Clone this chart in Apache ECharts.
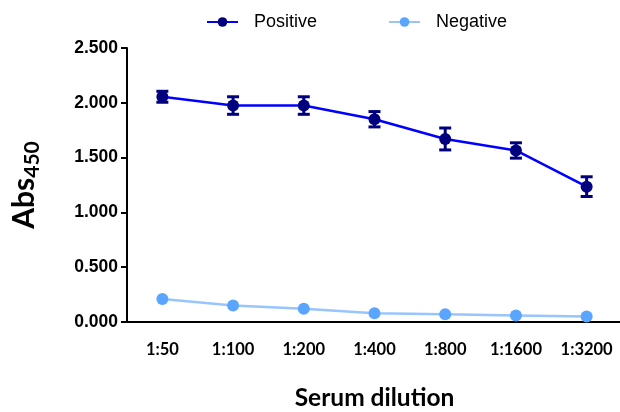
<!DOCTYPE html>
<html><head><meta charset="utf-8">
<script src="https://cdn.jsdelivr.net/npm/echarts@6/dist/echarts.min.js"></script>
<style>html,body{margin:0;padding:0;background:#fff}#c{width:620px;height:412px}</style>
</head><body><div id="c"></div>
<script>
const categories = ['1:50','1:100','1:200','1:400','1:800','1:1600','1:3200'];
const positive = [2.055, 1.975, 1.975, 1.85, 1.67, 1.565, 1.235];
const positiveErr = [0.05, 0.08, 0.08, 0.07, 0.10, 0.07, 0.09];
const negative = [0.21, 0.15, 0.12, 0.08, 0.07, 0.06, 0.05];
const yTicks = [0, 0.5, 1.0, 1.5, 2.0, 2.5];

const errData = positive.map((v, i) => [i, v - positiveErr[i], v + positiveErr[i]]);

const chart = echarts.init(document.getElementById('c'));
chart.setOption({
  animation: false,
  grid: {left: 127, right: -2, top: 48, bottom: 90, containLabel: false, outerBoundsMode: 'none'},
  legend: {
    top: 8, left: 201, itemGap: 71, itemWidth: 31, itemHeight: 12,
    textStyle: {fontFamily: 'Liberation Sans', fontSize: 18, color: '#000', padding: [0, 0, 0, 11]},
    data: ['Positive', 'Negative']
  },
  xAxis: {
    type: 'category', data: categories, boundaryGap: true,
    axisLine: {lineStyle: {color: '#000', width: 2}},
    axisTick: {alignWithLabel: true, length: 8, lineStyle: {width: 2, color: '#000'}},
    axisLabel: {fontFamily: 'Lato', fontWeight: 'bold', fontSize: 16.5, color: '#000', margin: 19},
    name: 'Serum dilution', nameLocation: 'middle', nameGap: 64,
    nameTextStyle: {fontFamily: 'Lato', fontWeight: 'bold', fontSize: 24.5, color: '#000'}
  },
  yAxis: {
    type: 'value', min: 0, max: yTicks[yTicks.length - 1], interval: 0.5,
    splitLine: {show: false},
    axisLine: {show: true, lineStyle: {color: '#000', width: 2}},
    axisTick: {show: true, length: 6, lineStyle: {width: 2, color: '#000'}},
    axisLabel: {fontFamily: 'Liberation Sans', fontWeight: 'bold', fontSize: 17.5, color: '#000', margin: 9,
      formatter: v => v.toFixed(3)},
    name: '{a|Abs}{b|450}', nameLocation: 'middle', nameGap: 84, nameRotate: 90,
    nameTextStyle: {
      rich: {
        a: {fontFamily: 'Lato', fontWeight: 'bold', fontSize: 30, color: '#000'},
        b: {fontFamily: 'Lato', fontWeight: 'bold', fontSize: 21, color: '#000', padding: [16, 0, 0, 0]}
      }
    }
  },
  series: [
    {
      name: 'Positive', type: 'line', data: positive, symbol: 'circle', symbolSize: 12,
      lineStyle: {color: '#0000ff', width: 2.5}, itemStyle: {color: '#00007f'}, z: 3
    },
    {
      name: 'Negative', type: 'line', data: negative, symbol: 'circle', symbolSize: 12,
      lineStyle: {color: '#99c5ff', width: 2.5}, itemStyle: {color: '#5aa5ff'}, z: 3
    },
    {
      type: 'custom', name: 'err', data: errData, z: 4,
      renderItem: function (params, api) {
        const x = api.value(0);
        const lo = api.coord([x, api.value(1)]);
        const hi = api.coord([x, api.value(2)]);
        const w = 6;
        const st = {stroke: '#00007f', lineWidth: 3};
        return {type: 'group', children: [
          {type: 'line', shape: {x1: lo[0], y1: lo[1], x2: hi[0], y2: hi[1]}, style: st},
          {type: 'line', shape: {x1: lo[0]-w, y1: lo[1], x2: lo[0]+w, y2: lo[1]}, style: st},
          {type: 'line', shape: {x1: hi[0]-w, y1: hi[1], x2: hi[0]+w, y2: hi[1]}, style: st}
        ]};
      }
    }
  ]
});
</script></body></html>
